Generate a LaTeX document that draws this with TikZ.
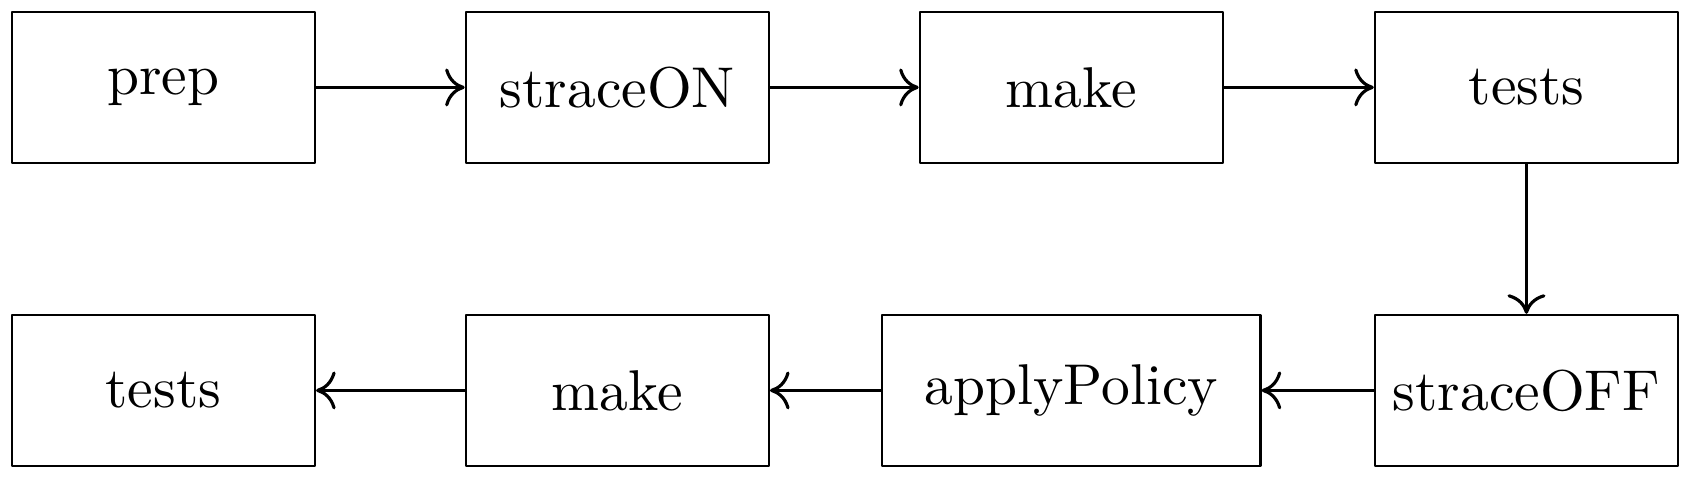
\documentclass[tikz,border=0pt]{standalone}
\usetikzlibrary{arrows.meta}
\begin{document}
\begin{tikzpicture}[x=1pt,y=1pt,
  stepbox/.style={draw,line width=0.4pt,line join=round,minimum width=52.7pt,minimum height=26.25pt,inner sep=0pt,font=\normalsize},
  conn/.style={line width=0.4pt,-{To[length=3.4pt,width=6.6pt,line width=0.55pt]}}]
\useasboundingbox (0,0) rectangle (294.1,83.3);
\node[stepbox] (prep) at (28.42,68.1) {prep};
\node[stepbox] (son) at (107.37,68.1) {straceON};
\node[stepbox] (make1) at (186.33,68.1) {make};
\node[stepbox] (tests1) at (265.48,68.1) {tests};
\node[stepbox] (soff) at (265.48,15.4) {straceOFF};
\node[stepbox,minimum width=65.8pt] (apply) at (186.33,15.4) {applyPolicy};
\node[stepbox] (make2) at (107.37,15.4) {make};
\node[stepbox] (tests2) at (28.42,15.4) {tests};
\draw[conn] (prep) -- (son);
\draw[conn] (son) -- (make1);
\draw[conn] (make1) -- (tests1);
\draw[conn] (tests1) -- (soff);
\draw[conn] (soff) -- (apply);
\draw[conn] (apply) -- (make2);
\draw[conn] (make2) -- (tests2);
\end{tikzpicture}
\end{document}
